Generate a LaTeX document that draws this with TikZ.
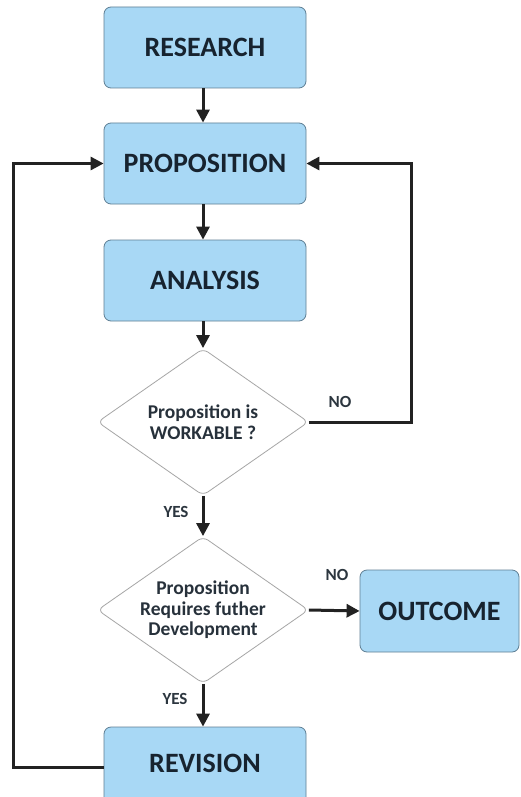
\documentclass[tikz,border=0pt]{standalone}
\usepackage{fontspec}
\setmainfont{Carlito}
\usetikzlibrary{shapes.geometric,arrows.meta}
\definecolor{boxfill}{HTML}{A8D8F5}
\definecolor{boxline}{HTML}{5F7F94}
\definecolor{txt}{HTML}{17232F}
\definecolor{lin}{HTML}{222222}
\tikzset{
  x=1pt,y=-1pt,
  box/.style={draw=boxline,fill=boxfill,line width=0.8pt,rounded corners=7pt,
    minimum width=202pt,minimum height=81pt,inner sep=0pt,
    font=\bfseries\fontsize{28}{31}\selectfont,text=txt},
  dec/.style={draw=gray!70,fill=white,line width=0.8pt,diamond,rounded corners=6pt,
    minimum width=211pt,minimum height=147pt,inner sep=0pt},
  dectext/.style={align=center,inner sep=0pt,
    font=\bfseries\fontsize{19.5}{20.5}\selectfont,text=txt!85!gray},
  conn/.style={draw=lin,line width=3pt,-{Triangle[length=13pt,width=13pt]}},
  lab/.style={font=\bfseries\fontsize{17}{19}\selectfont,text=txt!80!gray}
}
\begin{document}
\begin{tikzpicture}
\useasboundingbox (0,0) rectangle (520,797);
\fill[white] (0,0) rectangle (520,797);
\node[box] (research) at (205,47.5) {RESEARCH};
\node[box] (proposition) at (205,163.5) {PROPOSITION};
\node[box] (analysis) at (205,280.5) {ANALYSIS};
\node[dec,label={[dectext]center:Proposition is\\WORKABLE ?}] (d1) at (203,422) {};
\node[dec,label={[dectext]center:Proposition\\Requires futher\\Development}] (d2) at (203,610) {};
\node[box,minimum width=159pt,minimum height=82pt] (outcome) at (439.5,611) {OUTCOME};
\node[box,minimum height=80pt,text depth=0pt] (revision) at (205,767) {\raisebox{7pt}{REVISION}};
\coordinate (rx) at (411,0);
\coordinate (lx) at (13,0);
\node[lab] (no1) at (340,402) {NO};
\node[lab] (yes1) at (176,512) {YES};
\node[lab] (no2) at (337,575) {NO};
\node[lab] (yes2) at (175,699) {YES};
\draw[conn] (research.south -| d1.north) -- (proposition.north -| d1.north);
\draw[conn] (proposition.south -| d1.north) -- (analysis.north -| d1.north);
\draw[conn] (analysis.south -| d1.north) -- (d1.north);
\draw[conn] (d1.south) -- (d2.north);
\draw[conn] (d2.south) -- (revision.north -| d2.south);
\draw[conn] (d2.east) -- (outcome.west);
\draw[conn] (d1.east) -- (d1.east -| rx) |- (proposition.east);
\draw[conn] (revision.west) -- (revision.west -| lx) |- (proposition.west);
\end{tikzpicture}
\end{document}
